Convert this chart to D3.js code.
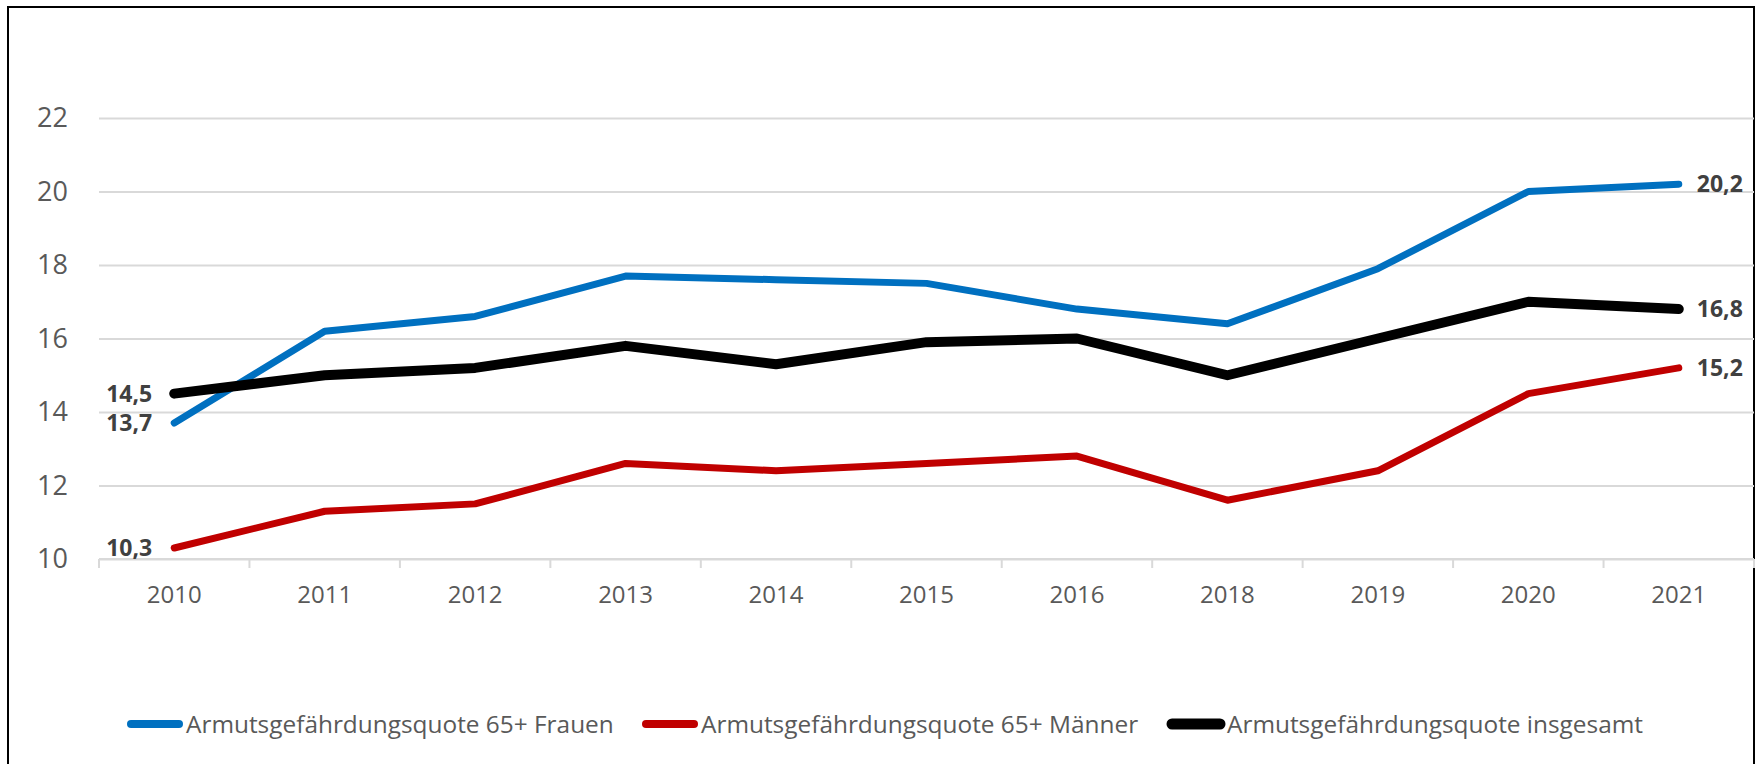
<!DOCTYPE html>
<html><head><meta charset="utf-8">
<script src="https://cdn.jsdelivr.net/npm/d3@7"></script>
<style>body{margin:0;background:#fff} svg{display:block}</style>
</head><body>
<svg id="chart" width="1763" height="764"></svg>
<script>
// ---- data ----
const years = ["2010","2011","2012","2013","2014","2015","2016","2018","2019","2020","2021"];
const frauen = [13.7,16.2,16.6,17.7,17.6,17.5,16.8,16.4,17.9,20.0,20.2];
const maenner = [10.3,11.3,11.5,12.6,12.4,12.6,12.8,11.6,12.4,14.5,15.2];
const insgesamt = [14.5,15.0,15.2,15.8,15.3,15.9,16.0,15.0,16.0,17.0,16.8];
const yTicks = [10,12,14,16,18,20,22];
const seriesNames = ["Armutsgefährdungsquote 65+ Frauen","Armutsgefährdungsquote 65+ Männer","Armutsgefährdungsquote insgesamt"];
const seriesColors = ["#0070C0","#C00000","#000000"];
const seriesWidths = [7,7,10];

const svg = d3.select("#chart");
const font = "'Open Sans', sans-serif";

// outer border
svg.append("rect").attr("x",8).attr("y",7).attr("width",1746).attr("height",770)
  .attr("fill","none").attr("stroke","#000").attr("stroke-width",2);

const pLeft = 99, pRight = 1754, pTop = 118, pBottom = 559;
const x = d3.scaleBand().domain(years).range([pLeft,pRight]).padding(0);
const y = d3.scaleLinear().domain([10,22]).range([pBottom,pTop]);
const cx = d => x(d) + x.bandwidth()/2;

// gridlines + y labels
const yAxis = d3.axisLeft(y).tickValues(yTicks).tickSize(-(pRight-pLeft)).tickPadding(31).tickFormat(d3.format("d"));
const gy = svg.append("g").attr("transform",`translate(${pLeft},0)`).call(yAxis);
gy.select(".domain").remove();
gy.selectAll(".tick line").attr("stroke","#D9D9D9").attr("stroke-width",2);
gy.selectAll(".tick text").attr("fill","#595959").style("font-family",font).style("font-size","27px");

// x axis: line, ticks at band edges, labels at centers
const gx = svg.append("g").attr("transform",`translate(0,${pBottom})`);
gx.append("line").attr("x1",pLeft).attr("x2",pRight).attr("stroke","#D9D9D9").attr("stroke-width",2);
const edges = years.map(d => x(d)).concat([pRight]);
gx.selectAll("line.tk").data(edges).join("line").attr("class","tk")
  .attr("x1",d=>d).attr("x2",d=>d).attr("y1",0).attr("y2",9)
  .attr("stroke","#D9D9D9").attr("stroke-width",2);
gx.selectAll("text").data(years).join("text")
  .attr("x",d=>cx(d)).attr("y",44).attr("text-anchor","middle")
  .attr("fill","#595959").style("font-family",font).style("font-size","24px").text(d=>d);

// lines
const allSeries = [frauen, maenner, insgesamt];
const line = d3.line().x((d,i)=>cx(years[i])).y(d=>y(d));
allSeries.forEach((s,k)=>{
  svg.append("path").datum(s).attr("d",line).attr("fill","none")
    .attr("stroke",seriesColors[k]).attr("stroke-width",seriesWidths[k])
    .attr("stroke-linecap","round").attr("stroke-linejoin","round");
});

// data labels (first and last points)
const fmt = v => d3.format(".1f")(v).replace(".",",");
const last = years.length-1;
allSeries.forEach((s,k)=>{
  svg.append("text").attr("x",cx(years[0])-22).attr("y",y(s[0])).attr("dy","0.36em")
    .attr("text-anchor","end").attr("fill","#404040").style("font-family",font)
    .style("font-size","23px").style("font-weight","bold").text(fmt(s[0]));
  svg.append("text").attr("x",cx(years[last])+18).attr("y",y(s[last])).attr("dy","0.36em")
    .attr("text-anchor","start").attr("fill","#404040").style("font-family",font)
    .style("font-size","23px").style("font-weight","bold").text(fmt(s[last]));
});

// legend
const legLineX = [127,642,1168];
const legY = 724;
seriesNames.forEach((n,k)=>{
  svg.append("line").attr("x1",legLineX[k]+4).attr("x2",legLineX[k]+52)
    .attr("y1",legY).attr("y2",legY).attr("stroke",seriesColors[k])
    .attr("stroke-width",k===2?11:8).attr("stroke-linecap","round");
  svg.append("text").attr("x",legLineX[k]+59).attr("y",legY).attr("dy","0.36em")
    .attr("fill","#595959").style("font-family",font).style("font-size","24.4px").text(n);
});
</script>
</body></html>
